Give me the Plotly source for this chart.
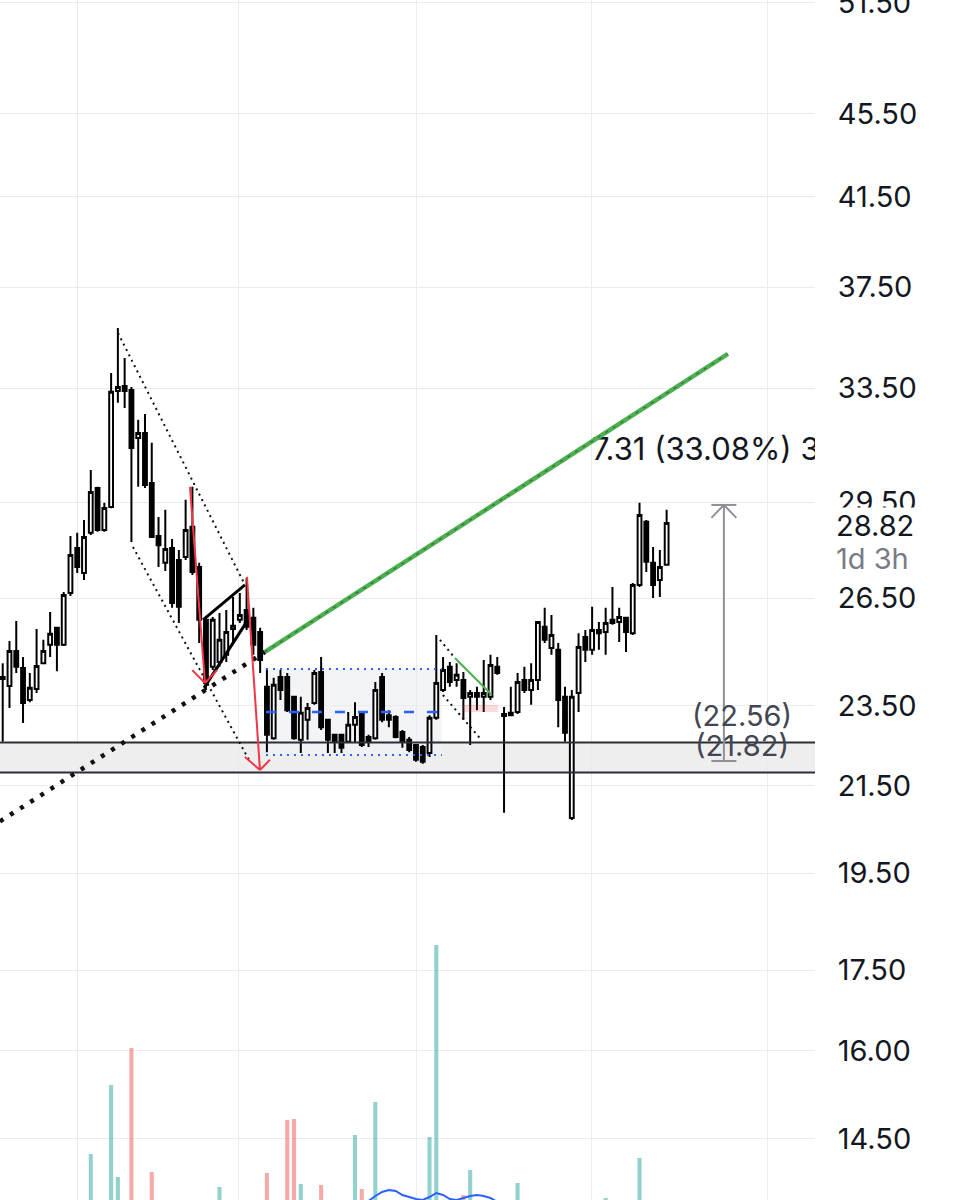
import math
import plotly.graph_objects as go

# ---------------- data ----------------
open_ = [24.22, 24.03, 24.99, 24.52, 23.66, 23.95, 24.65, 25.16, 25.64, 25.16,
         26.66, 28.03, 27.26, 28.51, 29.97, 28.60, 29.34, 33.40, 33.59, 33.44,
         31.69, 31.87, 30.14, 28.41, 27.57, 28.03, 27.66, 27.75, 28.70, 27.44,
         25.87, 24.55, 24.68, 24.88, 25.61, 25.87, 26.16, 25.93, 25.52, 24.01,
         22.67, 24.27, 24.27, 23.74, 22.63, 23.14, 23.58, 24.41, 23.14, 22.76,
         22.76, 22.58, 23.01, 23.32, 22.70, 22.67, 24.27, 23.26, 23.21, 22.83,
         22.63, 22.50, 22.45, 22.30, 23.19, 23.92, 24.55, 24.19, 24.19, 23.74,
         23.84, 23.74, 23.74, 24.55, 23.24, 23.26, 23.34, 24.19, 23.92, 24.19,
         25.67, 25.07, 25.02, 23.74, 20.74, 23.84, 25.38, 25.02, 25.58, 25.52,
         25.87, 25.81, 25.93, 25.49, 26.90, 28.86, 27.57, 27.05, 27.51]
high_ = [24.65, 25.27, 25.84, 24.82, 24.38, 25.61, 25.30, 26.10, 25.67, 26.69,
         28.41, 28.51, 28.92, 30.58, 30.01, 29.48, 34.08, 35.83, 34.65, 33.55,
         32.34, 32.55, 31.52, 29.02, 29.25, 28.31, 27.97, 29.58, 30.01, 27.57,
         25.93, 25.95, 26.07, 26.16, 26.54, 26.66, 27.11, 26.22, 25.64, 24.52,
         24.25, 24.46, 24.38, 23.76, 23.74, 23.58, 24.46, 24.82, 23.16, 22.78,
         22.78, 23.34, 23.60, 23.34, 22.76, 24.14, 24.38, 23.39, 23.26, 22.88,
         22.70, 22.52, 22.50, 23.26, 25.44, 24.82, 24.68, 24.65, 24.41, 23.92,
         24.01, 24.74, 24.88, 24.82, 23.47, 24.01, 24.38, 24.55, 24.65, 25.84,
         26.22, 26.01, 25.21, 24.01, 23.92, 25.49, 25.58, 26.25, 25.81, 26.22,
         26.84, 26.22, 25.95, 26.96, 29.48, 28.92, 28.06, 27.97, 29.25]
low_ = [22.58, 23.45, 24.38, 23.06, 23.60, 23.84, 24.63, 24.82, 24.43, 25.13,
        26.57, 27.26, 27.05, 28.44, 28.54, 28.54, 29.30, 32.96, 32.77, 28.22,
        30.01, 29.97, 28.35, 27.44, 27.32, 26.22, 25.78, 27.66, 27.20, 25.21,
        23.92, 24.46, 24.55, 24.68, 25.21, 25.78, 25.58, 24.88, 24.38, 22.32,
        22.63, 23.66, 23.34, 22.63, 22.30, 22.63, 23.53, 22.88, 22.30, 22.30,
        22.30, 22.55, 22.55, 22.45, 22.45, 22.63, 23.08, 22.95, 22.67, 22.43,
        22.32, 22.08, 22.03, 22.20, 23.14, 23.87, 24.01, 24.01, 23.14, 22.50,
        23.39, 23.34, 23.66, 24.33, 20.86, 23.24, 23.29, 23.84, 23.53, 23.92,
        25.21, 24.88, 22.95, 22.58, 20.69, 23.34, 24.68, 24.88, 25.02, 24.88,
        25.73, 25.24, 24.96, 25.44, 26.84, 27.29, 26.51, 26.54, 27.48]
close_ = [24.27, 24.99, 24.55, 23.58, 23.98, 24.57, 24.99, 25.47, 25.16, 26.60,
          27.81, 27.44, 28.38, 29.84, 28.60, 29.31, 33.37, 33.55, 33.40, 31.34,
          31.87, 30.07, 28.38, 28.12, 28.00, 26.36, 26.25, 28.60, 27.29, 25.87,
          24.11, 25.87, 25.30, 25.52, 25.70, 26.01, 25.67, 25.16, 24.74, 22.76,
          24.06, 23.92, 23.39, 22.67, 23.32, 23.45, 24.38, 22.95, 22.63, 22.58,
          22.43, 23.01, 23.21, 22.50, 22.58, 23.92, 23.14, 23.14, 22.70, 22.58,
          22.37, 22.13, 22.08, 23.19, 24.11, 24.46, 24.14, 24.33, 23.71, 23.84,
          23.74, 23.84, 24.60, 24.38, 23.29, 23.32, 24.14, 23.92, 24.19, 25.81,
          25.30, 25.44, 23.66, 22.81, 23.74, 25.10, 25.02, 25.58, 25.49, 25.78,
          25.78, 25.95, 25.52, 26.90, 29.08, 27.60, 26.90, 27.44, 28.82]
volume = [250, 310, 220, 290, 180, 260, 200, 240, 190, 330,
          370, 280, 300, 860, 350, 260, 1550, 630, 380, 1920,
          340, 360, 680, 300, 270, 350, 310, 290, 380, 360,
          370, 280, 530, 240, 210, 190, 260, 300, 330, 670,
          380, 250, 1200, 1210, 560, 230, 310, 550, 280, 200,
          220, 260, 1050, 510, 240, 1380, 330, 380, 260, 210,
          240, 280, 300, 1030, 2950, 380, 340, 290, 450, 700,
          260, 310, 350, 240, 370, 220, 570, 200, 250, 390,
          300, 240, 360, 330, 380, 370, 210, 280, 190, 420,
          230, 200, 260, 350, 820, 380, 300, 270, 320]
ma_x = list(range(54, 74))
ma_vals = [390, 440, 480, 500, 490, 450, 430, 410, 400, 430,
           470, 450, 410, 400, 420, 440, 450, 440, 420, 380]

price_ticks = [14.5, 16.0, 17.5, 19.5, 21.5, 23.5, 26.5, 29.5, 33.5, 37.5, 41.5, 45.5, 51.5]
price_labels = ["14.50", "16.00", "17.50", "19.50", "21.50", "23.50", "26.50",
                "29.50", "33.50", "37.50", "41.50", "45.50", "51.50"]
time_grid = [10.97, 34.87, 61.14, 86.97, 112.94]
price_view = [13.54, 51.67]
bar_view = [-0.4, 119.9]
volume_view = [400, 12400]

zone_low, zone_high = 21.82, 22.56
measure_low, measure_high = 22.10, 29.41
measure_bar = 106.45
last_price = 28.82
measure_text = "7.31 (33.08%) 33 bars, 1d"
measure_text_anchor = (86.97, 31.20)

# drawings (bar index, price)
trend_ray = [(-0.40, 20.66), (38.71, 24.96), (107.04, 34.81)]
channel_upper = [(17.02, 35.63), (35.76, 26.90)]
channel_lower = [(19.23, 28.06), (36.50, 22.08)]
wedge_upper = [(29.56, 25.87), (35.76, 26.90)]
wedge_lower = [(29.71, 23.98), (36.20, 25.87)]
arrow1 = [(27.64, 30.01), (29.86, 24.11), (27.97, 24.46), (31.63, 24.46)]
arrow2 = [(36.05, 27.14), (37.97, 21.88), (35.76, 22.20), (39.45, 22.13)]
range_box = [(38.86, 22.25), (64.83, 24.49)]
flag_upper = [(64.54, 25.30), (66.75, 24.79)]
flag_lower = [(64.98, 23.79), (70.44, 22.67)]
flag_green = [(66.75, 24.79), (72.21, 23.79)]
pink_box = [(67.93, 23.34), (73.10, 23.53)]
measure_tick_half = 1.85
measure_wing_price = 28.99

# ---------------- figure ----------------
bars = list(range(len(open_)))
FONT = "Inter"

fig = go.Figure()
fig.add_trace(go.Candlestick(
    x=bars, open=open_, high=high_, low=low_, close=close_,
    increasing=dict(line=dict(color="#000000", width=2), fillcolor="#ffffff"),
    decreasing=dict(line=dict(color="#000000", width=2), fillcolor="#000000"),
    whiskerwidth=0, showlegend=False, hoverinfo="skip"))

vol_colors = ["rgba(38,166,154,0.5)" if c >= o else "rgba(239,83,80,0.5)"
              for o, c in zip(open_, close_)]
fig.add_trace(go.Bar(x=bars, y=volume, width=0.6, yaxis="y2",
                     marker=dict(color=vol_colors, line=dict(width=0)),
                     showlegend=False, hoverinfo="skip"))
fig.add_trace(go.Scatter(x=ma_x, y=ma_vals, mode="lines", yaxis="y2",
                         line=dict(color="#2962ff", width=2), showlegend=False,
                         hoverinfo="skip"))
fig.add_trace(go.Scatter(x=[measure_text_anchor[0]], y=[measure_text_anchor[1]],
                         mode="text", text=[measure_text], textposition="middle right",
                         textfont=dict(family=FONT, size=31, color="#131722"),
                         cliponaxis=True, showlegend=False, hoverinfo="skip"))

shapes = []


def seg(p0, p1, color, width, dash=None, layer="above"):
    ln = dict(color=color, width=width)
    if dash:
        ln["dash"] = dash
    shapes.append(dict(type="line", xref="x", yref="y", x0=p0[0], y0=p0[1],
                       x1=p1[0], y1=p1[1], line=ln, layer=layer))


def rect(p0, p1, fill, layer="below", xref="x"):
    shapes.append(dict(type="rect", xref=xref, yref="y", x0=p0[0], y0=p0[1],
                       x1=p1[0], y1=p1[1], fillcolor=fill, line=dict(width=0),
                       layer=layer))


# support zone
rect((0, zone_low), (1, zone_high), "#eeeeef", xref="paper")
# consolidation range
rect(range_box[0], range_box[1], "rgba(240,241,245,0.8)")
rect(pink_box[0], pink_box[1], "rgba(242,54,69,0.18)", layer="above")

for lvl in (zone_low, zone_high):
    shapes.append(dict(type="line", xref="paper", yref="y", x0=0, x1=1, y0=lvl, y1=lvl,
                       line=dict(color="#2a2e39", width=2), layer="above"))

(bx0, by0), (bx1, by1) = range_box
seg((bx0, by1), (bx1, by1), "#2962ff", 2, "2px,5px")
seg((bx0, by0), (bx1, by0), "#2962ff", 2, "2px,5px")
mid = math.sqrt(by0 * by1)
seg((bx0, mid), (bx1, mid), "#2962ff", 2.5, "10px,13px")

# channel (thin dotted)
seg(channel_upper[0], channel_upper[1], "#111111", 2, "2px,4px")
seg(channel_lower[0], channel_lower[1], "#111111", 2, "2px,4px")
seg(flag_upper[0], flag_upper[1], "#111111", 2, "2px,4px")
seg(flag_lower[0], flag_lower[1], "#111111", 2, "2px,4px")
seg(flag_green[0], flag_green[1], "#4caf50", 2)

# trend line (thick dotted part, then green)
seg(trend_ray[0], trend_ray[1], "#111111", 4.5, "4px,8px")
seg(trend_ray[1], trend_ray[2], "#4caf50", 4.5)
seg(trend_ray[1], trend_ray[2], "rgba(40,40,40,0.5)", 1.2, "3px,6px")

# wedge
seg(wedge_upper[0], wedge_upper[1], "#000000", 3)
seg(wedge_lower[0], wedge_lower[1], "#000000", 3)

# red arrows
for arr in (arrow1, arrow2):
    seg(arr[0], arr[1], "#f23645", 2)
    seg(arr[2], arr[1], "#f23645", 2)
    seg(arr[3], arr[1], "#f23645", 2)

# measure tool
mc = "#8f9199"
seg((measure_bar, measure_low), (measure_bar, measure_high), mc, 2)
seg((measure_bar - measure_tick_half, measure_high), (measure_bar + measure_tick_half, measure_high), mc, 2)
seg((measure_bar - measure_tick_half, measure_low), (measure_bar + measure_tick_half, measure_low), mc, 2)
seg((measure_bar - measure_tick_half, measure_wing_price), (measure_bar, measure_high), mc, 2)
seg((measure_bar + measure_tick_half, measure_wing_price), (measure_bar, measure_high), mc, 2)

annotations = [
    dict(x=109.1, y=math.log10(zone_high), xref="x", yref="y", text="(22.56)",
         showarrow=False, yshift=27, font=dict(family=FONT, size=29, color="#434651")),
    dict(x=109.1, y=math.log10(zone_low), xref="x", yref="y", text="(21.82)",
         showarrow=False, yshift=27, font=dict(family=FONT, size=29, color="#434651")),
    dict(x=1, xshift=19, y=math.log10(last_price), xref="paper", yref="y",
         text=f"{last_price:.2f}", showarrow=False, xanchor="left", align="left",
         yshift=-2, width=118, height=32, borderpad=1, bgcolor="#ffffff",
         font=dict(family=FONT, size=29, color="#131722")),
    dict(x=1, xshift=19, y=math.log10(last_price), xref="paper", yref="y",
         text="1d 3h", showarrow=False, xanchor="left", align="left",
         yshift=-35, width=118, height=32, borderpad=1, bgcolor="#ffffff",
         font=dict(family=FONT, size=29, color="#787b86")),
]

fig.update_layout(
    width=955, height=1200,
    margin=dict(l=0, r=140, t=0, b=0),
    paper_bgcolor="#ffffff", plot_bgcolor="#ffffff",
    showlegend=False,
    boxgap=0.25, boxgroupgap=0.25,
    xaxis=dict(range=bar_view, tickvals=time_grid, showticklabels=False,
               showgrid=True, gridcolor="#ebebeb", gridwidth=1, zeroline=False,
               rangeslider=dict(visible=False), showline=False, ticks=""),
    yaxis=dict(type="log", range=[math.log10(price_view[0]), math.log10(price_view[1])],
               side="right", tickvals=price_ticks, ticktext=price_labels,
               showgrid=True, gridcolor="#ebebeb", gridwidth=1, zeroline=False,
               ticks="outside", ticklen=16, tickcolor="rgba(0,0,0,0)",
               tickfont=dict(family=FONT, size=29, color="#131722"),
               ticklabeloverflow="allow",
               automargin=False, showline=False),
    yaxis2=dict(overlaying="y", range=volume_view, visible=False),
    shapes=shapes,
    annotations=annotations,
)

fig.write_html(
    "out.html",
    config={"displayModeBar": False},
    post_script="document.body.style.margin='0px';document.body.style.padding='0px';"
                "document.body.style.overflow='hidden';",
)
